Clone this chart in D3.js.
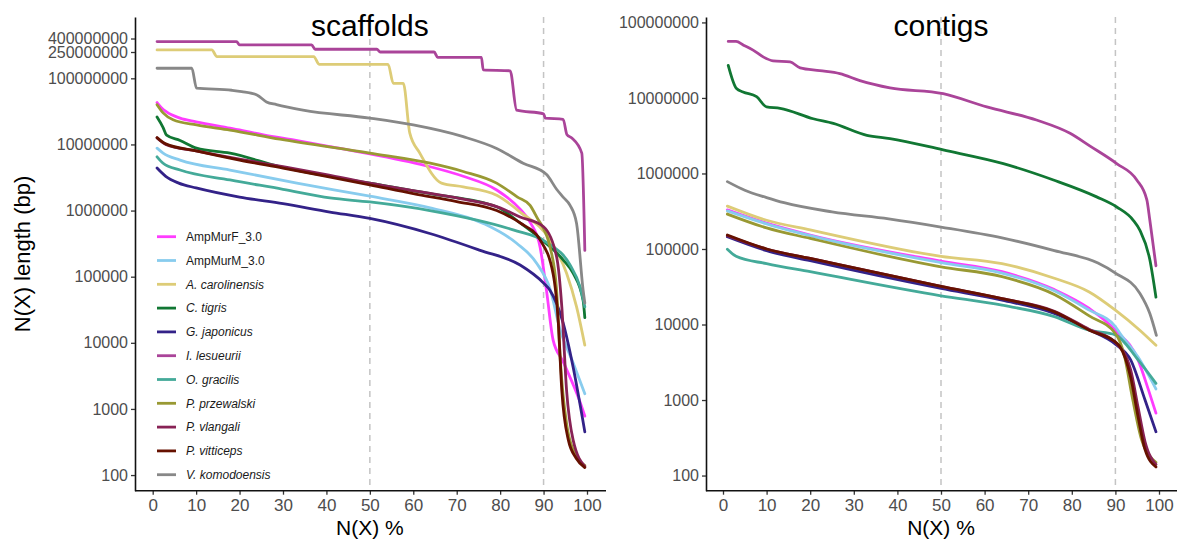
<!DOCTYPE html>
<html>
<head>
<meta charset="utf-8">
<script src="https://cdn.jsdelivr.net/npm/d3@7"></script>
<style>
body { margin: 0; background: #fff; }
text { font-family: "Liberation Sans", Arial, Helvetica, sans-serif; }
</style>
</head>
<body>
<svg id="chart" width="1188" height="545"></svg>
<script>
var speciesNames = ["AmpMurF_3.0", "AmpMurM_3.0", "A. carolinensis", "C. tigris", "G. japonicus",
    "I. lesueurii", "O. gracilis", "P. przewalski", "P. vlangali", "P. vitticeps", "V. komodoensis"];
var speciesColors = ["#ff3cff", "#88ccee", "#ddcc77", "#117733", "#332288",
    "#aa4499", "#44aa99", "#999933", "#882255", "#661100", "#888888"];
var italicName = [false, false, true, true, true, true, true, true, true, true, true];

var xTicks = [0, 10, 20, 30, 40, 50, 60, 70, 80, 90, 100];
var guideX = [50, 90];
var scafTicks = [100, 1000, 10000, 100000, 1000000, 10000000, 100000000, 250000000, 400000000];
var contigTicks = [100, 1000, 10000, 100000, 1000000, 10000000, 100000000];

// scaffolds: [N(X) %, length bp]
var scafAmpMurF = [[1,4.3e7],[2,3.6e7],[3.2,3.1e7],[6.3,2.5e7],[10,2.2e7],[17.8,1.76e7],[25.5,1.4e7],[33,1.15e7],[40.8,9.3e6],[50,7.2e6],[63.9,4.6e6],[71.5,3.3e6],[79.2,2.05e6],[84.6,1.05e6],[87,6.5e5],[89.2,2.8e5],[90.7,6e4],[92.2,1.1e4],[94.5,5.2e3],[96.1,3e3],[98,1.5e3],[99.5,780]];
var scafAmpMurM = [[1,8.8e6],[2.4,7.4e6],[6.3,5.8e6],[17.8,4.1e6],[33.2,2.6e6],[50,1.65e6],[63.9,1.1e6],[76.1,6.4e5],[83.8,3.2e5],[88.4,1.6e5],[91.5,6.5e4],[93.8,1.6e4],[96.8,5e3],[99.5,1.7e3]];
var scafCarolinensis = [[1,2.69e8],[13.6,2.69e8],[14.8,2.13e8],[37.1,2.13e8],[38.3,1.63e8],[54.2,1.63e8],[55.4,8.4e7],[57.7,8.4e7],[59.2,1.48e7],[61.5,7.4e6],[66.5,2.6e6],[71.5,2.28e6],[79.2,1.7e6],[84.6,9.5e5],[91.5,3.6e5],[95.3,1.13e5],[97.6,3.5e4],[99.5,9.2e3]];
var scafTigris = [[1,2.6e7],[2.4,1.8e7],[3.2,1.38e7],[6.3,1.15e7],[10.1,8.8e6],[17.8,7.4e6],[29.3,4.6e6],[50,2.6e6],[63.9,1.8e6],[79.2,1.14e6],[84.6,6.5e5],[89.2,3.8e5],[94.5,1.8e5],[96.8,1.13e5],[99.1,4.4e4],[99.5,2.4e4]];
var scafJaponicus = [[1,4.4e6],[3,3.3e6],[6,2.6e6],[10,2.2e6],[20,1.6e6],[30,1.27e6],[40.8,9.5e5],[50,7.6e5],[63.8,4.5e5],[75.4,2.5e5],[84.6,1.5e5],[90,8e4],[91.5,6.2e4],[94.5,2e4],[96.8,4.3e3],[99.5,450]];
var scafLesueurii = [[1,3.6e8],[19.3,3.6e8],[20,3.2e8],[36.6,3.2e8],[37.4,2.75e8],[51.6,2.75e8],[52.4,2.5e8],[64.8,2.5e8],[65.6,2.08e8],[75.7,2.08e8],[76.1,1.34e8],[82.3,1.3e8],[83.8,3.3e7],[90,2.9e7],[90.4,2.5e7],[94.5,2.4e7],[95.4,1.4e7],[96.5,1.25e7],[98.8,7.4e6],[99.5,2.5e5]];
var scafGracilis = [[1,6.5e6],[2.4,5.2e6],[6.3,4.1e6],[17.8,2.9e6],[30,2.1e6],[40.8,1.55e6],[50,1.35e6],[63.8,1e6],[83,5.1e5],[90.7,3.3e5],[96.1,1.5e5],[98.4,7e4],[99.5,3.5e4]];
var scafPrzewalski = [[1,4e7],[2.4,3e7],[4.7,2.36e7],[10.1,1.97e7],[17.8,1.65e7],[29.3,1.2e7],[50,7.4e6],[63.9,5.2e6],[71.5,3.9e6],[79.2,2.6e6],[84,1.6e6],[86.9,1.2e6],[88.4,8e5],[91.5,2.8e5],[93,6.3e4],[93.8,6.2e3],[95.3,600],[97.6,190],[99.5,140]];
var scafVlangali = [[1,1.25e7],[3,1e7],[10,8e6],[20,6e6],[30,4.6e6],[40,3.5e6],[50,2.6e6],[60,2e6],[70,1.55e6],[80,1.1e6],[84.6,8e5],[90,5.7e5],[93,2e5],[94.2,3.5e4],[95.3,1.9e3],[96.8,340],[99.5,135]];
var scafVitticeps = [[1,1.27e7],[3,1.02e7],[10,8e6],[20,5.8e6],[30,4.4e6],[40,3.3e6],[50,2.45e6],[60,1.8e6],[70,1.37e6],[79.2,1e6],[84.6,6.5e5],[89.2,3.6e5],[92.2,1.1e5],[93.4,2e4],[94.2,1.9e3],[95.7,340],[97.5,180],[99.5,130]];
var scafKomodo = [[1,1.42e8],[9,1.42e8],[10.1,7.1e7],[18.2,6.6e7],[20.5,6.3e7],[24,5.6e7],[26.2,4.4e7],[28.5,4e7],[34.6,3.3e7],[50,2.5e7],[60,1.97e7],[71.5,1.31e7],[79.2,8.7e6],[85.3,5.2e6],[90.7,3.5e6],[93,2.1e6],[94.5,1.6e6],[96.1,1.2e6],[97.6,6.4e5],[99.1,6.3e4],[99.5,4e4]];

// contigs: [N(X) %, length bp]
var conAmpMurF = [[1,3.3e5],[10,2.2e5],[20,1.53e5],[50,6.9e4],[64,5e4],[76,2.9e4],[84,1.63e4],[90,8.4e3],[95.2,3.4e3],[97.6,1.35e3],[99.3,670]];
var conAmpMurM = [[1,3.2e5],[10,2.15e5],[20,1.5e5],[50,6.6e4],[64,4.8e4],[76,2.8e4],[84,1.55e4],[90,9.4e3],[91,7.7e3],[95.2,3.7e3],[99.3,1.4e3]];
var conCarolinensis = [[1,3.7e5],[10,2.4e5],[20,1.79e5],[50,8e4],[64,6.4e4],[76,4.1e4],[84,2.7e4],[90,1.55e4],[95.6,8.4e3],[99.3,5.3e3]];
var conTigris = [[1.2,2.7e7],[3.1,1.33e7],[4.6,1.2e7],[7.7,1.04e7],[10,7.6e6],[13.1,7.3e6],[20.7,5.3e6],[25.3,4.6e6],[33,3.2e6],[38.3,2.9e6],[50.5,2.05e6],[64.3,1.35e6],[75.8,8.2e5],[85.7,4.9e5],[90.3,3.6e5],[94.1,2.4e5],[95.6,1.78e5],[97.9,7.2e4],[99.3,2.3e4]];
var conJaponicus = [[1,1.45e5],[10,9.5e4],[20,7e4],[50,3e4],[64,2.1e4],[76,1.4e4],[84,8.5e3],[90,5.5e3],[93.5,3.4e3],[96.8,1e3],[99.3,380]];
var conLesueurii = [[1.2,5.6e7],[3,5.6e7],[4.7,5e7],[6.9,4.3e7],[9.2,3.5e7],[11.5,3.1e7],[15.4,3e7],[17.7,2.5e7],[22.2,2.3e7],[26.8,2.1e7],[31.4,1.7e7],[38.3,1.36e7],[50.5,1.14e7],[60.5,7.6e6],[71.9,5.1e6],[79.6,3.4e6],[84.2,2.3e6],[90.3,1.35e6],[94.9,8.2e5],[97.2,4.5e5],[97.9,2.4e5],[99.3,6e4]];
var conGracilis = [[1,9.9e4],[3,8e4],[10,6.4e4],[20,5e4],[50,2.4e4],[64,1.8e4],[76,1.27e4],[84,8.4e3],[90,7.3e3],[95.2,3.4e3],[99.3,1.66e3]];
var conPrzewalski = [[1,2.9e5],[10,1.9e5],[20,1.38e5],[50,5.8e4],[64,4.3e4],[76,2.5e4],[84,1.3e4],[90,7.6e3],[92,4e3],[94,1e3],[96,300],[99.3,150]];
var conVlangali = [[1,1.5e5],[10,1e5],[20,7.5e4],[50,3.2e4],[64,2.2e4],[76,1.5e4],[84,8.6e3],[90,5.8e3],[93.5,2.5e3],[95.2,800],[96.8,280],[99.3,140]];
var conVitticeps = [[1,1.53e5],[10,1e5],[20,7.5e4],[50,3.2e4],[64,2.2e4],[76,1.47e4],[84,8.4e3],[90.4,5.6e3],[91,5.1e3],[93.5,2e3],[95.2,600],[96.8,220],[99.3,130]];
var conKomodo = [[1,7.8e5],[5,6e5],[10,4.8e5],[14,4.1e5],[25,3.1e5],[38,2.5e5],[50,1.95e5],[64,1.4e5],[76,9.5e4],[86,6.5e4],[90,4.8e4],[95.6,2.6e4],[97.9,1.4e4],[99.4,7.2e3]];

var scaffolds = [scafAmpMurF, scafAmpMurM, scafCarolinensis, scafTigris, scafJaponicus, scafLesueurii,
    scafGracilis, scafPrzewalski, scafVlangali, scafVitticeps, scafKomodo];
var contigs = [conAmpMurF, conAmpMurM, conCarolinensis, conTigris, conJaponicus, conLesueurii,
    conGracilis, conPrzewalski, conVlangali, conVitticeps, conKomodo];

var svg = d3.select("#chart");
var panelTop = 17, panelBottom = 490.7;

function drawPanel(opt) {
    var x = d3.scaleLinear().domain([0, 100]).range([opt.x0, opt.x1]);
    var y = d3.scaleLog().domain(opt.yDomain).range([panelBottom, panelTop]);
    var g = svg.append("g");

    // dashed guides at N50 / N90
    g.selectAll(".guide").data(guideX).enter().append("line")
        .attr("x1", d => x(d)).attr("x2", d => x(d))
        .attr("y1", panelTop).attr("y2", panelBottom)
        .attr("stroke", "#c4c4c4").attr("stroke-width", 1.5)
        .attr("stroke-dasharray", "6,5");

    var line = d3.line()
        .x(d => x(d[0])).y(d => y(d[1]))
        .curve(d3.curveMonotoneX);
    g.selectAll(".curve").data(opt.data).enter().append("path")
        .attr("d", line)
        .attr("fill", "none")
        .attr("stroke", (d, i) => speciesColors[i])
        .attr("stroke-width", 2.8)
        .attr("stroke-linejoin", "round")
        .attr("stroke-linecap", "round");

    // axes
    var yAxis = g.append("g").attr("transform", "translate(" + opt.axisX + ",0)")
        .call(d3.axisLeft(y).tickValues(opt.ticks).tickFormat(d3.format("d")).tickSize(4).tickSizeOuter(0));
    var xAxis = g.append("g").attr("transform", "translate(0," + panelBottom + ")")
        .call(d3.axisBottom(x).tickValues(xTicks).tickSize(4).tickSizeOuter(0));
    xAxis.select(".domain").remove();
    g.append("line")
        .attr("x1", opt.axisX).attr("x2", opt.axisEnd)
        .attr("y1", panelBottom).attr("y2", panelBottom)
        .attr("stroke", "#111").attr("stroke-width", 1.6);
    yAxis.select(".domain").attr("stroke", "#111").attr("stroke-width", 1.6);
    [yAxis, xAxis].forEach(function(a) {
        a.selectAll(".tick line").attr("stroke", "#333").attr("stroke-width", 1.3);
        a.selectAll(".tick text")
            .attr("fill", "#4d4d4d")
            .style("font-family", "'Liberation Sans', Arial, sans-serif");
    });
    yAxis.selectAll(".tick text").attr("x", -7).style("font-size", "16px");
    xAxis.selectAll(".tick text").attr("y", 8).style("font-size", "17px");

    g.append("text")
        .attr("x", x(50)).attr("y", 36)
        .attr("text-anchor", "middle")
        .style("font-size", "30px")
        .text(opt.title);
    g.append("text")
        .attr("x", x(50)).attr("y", 535)
        .attr("text-anchor", "middle")
        .style("font-size", "21px")
        .text("N(X) %");
}

drawPanel({ data: scaffolds, ticks: scafTicks, x0: 152.7, x1: 587, axisX: 135, axisEnd: 606,
    yDomain: [58, 8.46e8], title: "scaffolds" });
drawPanel({ data: contigs, ticks: contigTicks, x0: 723, x1: 1159, axisX: 706, axisEnd: 1177,
    yDomain: [63, 1.18e8], title: "contigs" });

svg.append("text")
    .attr("transform", "translate(30,254) rotate(-90)")
    .attr("text-anchor", "middle")
    .style("font-size", "22px")
    .text("N(X) length (bp)");

// legend inside the scaffolds panel
var legend = svg.append("g").selectAll("g").data(speciesNames).enter().append("g")
    .attr("transform", (d, i) => "translate(157," + (236.7 + i * 23.8) + ")");
legend.append("line")
    .attr("x1", 0).attr("x2", 19)
    .attr("stroke", (d, i) => speciesColors[i])
    .attr("stroke-width", 2.8);
legend.append("text")
    .attr("x", 29).attr("dy", "0.35em")
    .style("font-size", "12px")
    .style("font-style", (d, i) => italicName[i] ? "italic" : "normal")
    .attr("fill", "#1a1a1a")
    .text(d => d);
</script>
</body>
</html>
